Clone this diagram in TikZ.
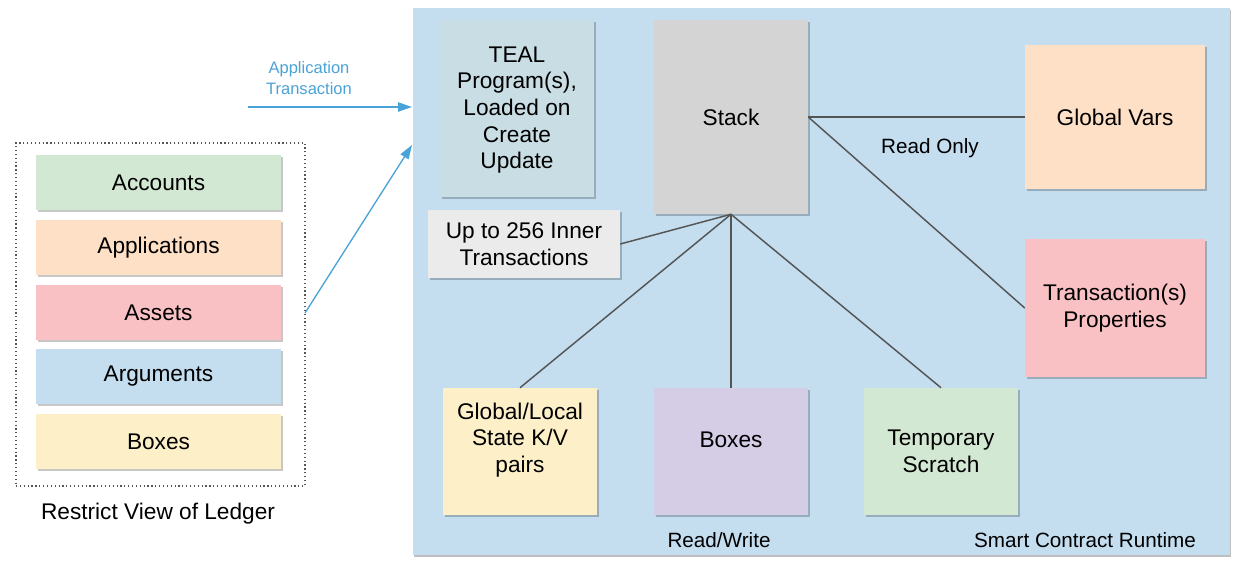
\documentclass[tikz,border=0pt]{standalone}
\usepackage{fontspec}
\setmainfont{Liberation Sans}
\usetikzlibrary{shadows,arrows.meta}
\definecolor{rtblue}{HTML}{C4DEF0}
\definecolor{tealc}{HTML}{C8DDE4}
\definecolor{stackc}{HTML}{D4D4D4}
\definecolor{peach}{HTML}{FDE0C6}
\definecolor{pinkc}{HTML}{FAC1C4}
\definecolor{innerc}{HTML}{EBEBEB}
\definecolor{yell}{HTML}{FDF0C8}
\definecolor{lav}{HTML}{D5CCE6}
\definecolor{greenc}{HTML}{D3E8D2}
\definecolor{arrblue}{HTML}{4AA3D8}
\definecolor{linec}{HTML}{555555}
\tikzset{
  boxc/.style={rectangle, inner sep=0pt, draw=none, align=center,
    font=\fontsize{17}{20}\selectfont,
    drop shadow={shadow xshift=1.2pt, shadow yshift=-1.8pt, opacity=0.22, fill=black}},
  txt/.style={inner sep=0pt, align=center, font=\fontsize{17}{20}\selectfont},
  lbl/.style={inner sep=0pt, align=center, font=\fontsize{15.5}{19}\selectfont},
  conn/.style={draw=linec, line width=1.1pt},
  barrow/.style={draw=arrblue, line width=1pt, -{Triangle[length=10.5pt,width=7pt]}},
}
\begin{document}
\begin{tikzpicture}[x=0.75pt,y=-0.75pt]
\useasboundingbox (0,0) rectangle (1236,562);
\fill[white] (0,0) rectangle (1236,562);
% runtime
\node[rectangle, inner sep=0pt, fill=rtblue, minimum width=612.75pt, minimum height=410.25pt,
  drop shadow={shadow xshift=0.8pt, shadow yshift=-1.2pt, opacity=0.25, fill=black}] (runtime) at (821.5,281.5) {};
% runtime boxes
\node[boxc, fill=tealc, minimum width=115.5pt, minimum height=132.75pt] (teal) at (517,108.5) {};
\node[txt] (tealtxt) at (517,110) {TEAL\\Program(s),\\Loaded on\\Create\\Update};
\node[boxc, fill=stackc, minimum width=115.5pt, minimum height=145.5pt] (stack) at (731,117) {Stack};
\node[boxc, fill=peach, minimum width=135pt, minimum height=108pt] (gv) at (1115,117) {Global Vars};
\node[boxc, fill=pinkc, minimum width=135pt, minimum height=103.5pt] (txn) at (1115,308) {Transaction(s)\\Properties};
\node[boxc, fill=innerc, minimum width=144pt, minimum height=51pt] (inner) at (524,244) {Up to 256 Inner\\Transactions};
\node[boxc, fill=yell, minimum width=115.5pt, minimum height=95.25pt] (gl) at (520,451.5) {};
\node[txt] (gltxt) at (520,440) {Global/Local\\State K/V\\pairs};
\node[boxc, fill=lav, minimum width=115.5pt, minimum height=95.25pt] (rboxes) at (731,451.5) {};
\node[txt] (rboxestxt) at (731,440) {Boxes};
\node[boxc, fill=greenc, minimum width=115.5pt, minimum height=95.25pt] (temp) at (941,451.5) {Temporary\\Scratch};
% connectors
\draw[conn] (stack.south) -- (inner.east);
\draw[conn] (stack.south) -- (gl.north);
\draw[conn] (stack.south) -- (rboxes.north);
\draw[conn] (stack.south) -- (temp.north);
\draw[conn] (stack.east) -- (gv.west);
\draw[conn] (stack.east) -- (txn.west);
% labels
\node[lbl] (ro) at (930,148) {Read Only};
\node[lbl] (rw) at (719,540) {Read/Write};
\node[lbl] (scr) at (1085,540) {Smart Contract Runtime};
% ledger
\node[rectangle, draw=linec, dotted, line width=0.9pt, minimum width=216.75pt, minimum height=257.25pt, inner sep=0pt] (ledger) at (160.5,314.5) {};
\node[boxc, fill=greenc, minimum width=183.75pt, minimum height=41.25pt] (acc) at (158.5,182.5) {Accounts};
\node[boxc, fill=peach, minimum width=183.75pt, minimum height=41.25pt] (apps) at (158.5,247.5) {Applications};
\node[boxc, fill=pinkc, minimum width=183.75pt, minimum height=41.25pt] (assets) at (158.5,312.5) {Assets};
\node[boxc, fill=rtblue, minimum width=183.75pt, minimum height=41.25pt] (args) at (158.5,376.5) {Arguments};
\node[boxc, fill=yell, minimum width=183.75pt, minimum height=41.25pt] (lboxes) at (158.5,441.5) {Boxes};
\node[lbl, font=\fontsize{17}{20}\selectfont] (rvl) at (158,514) {Restrict View of Ledger};
% arrows
\coordinate (a1s) at (248,107);
\coordinate (a1e) at (412,107);
\coordinate (a2s) at (305,313);
\coordinate (a2e) at (412,145);
\draw[barrow] (a1s) -- (a1e);
\draw[barrow] (a2s) -- (a2e);
\node[inner sep=0pt, align=center, text=arrblue, font=\fontsize{12.4}{15.8}\selectfont] (atl) at (309,78) {Application\\Transaction};
\end{tikzpicture}
\end{document}
